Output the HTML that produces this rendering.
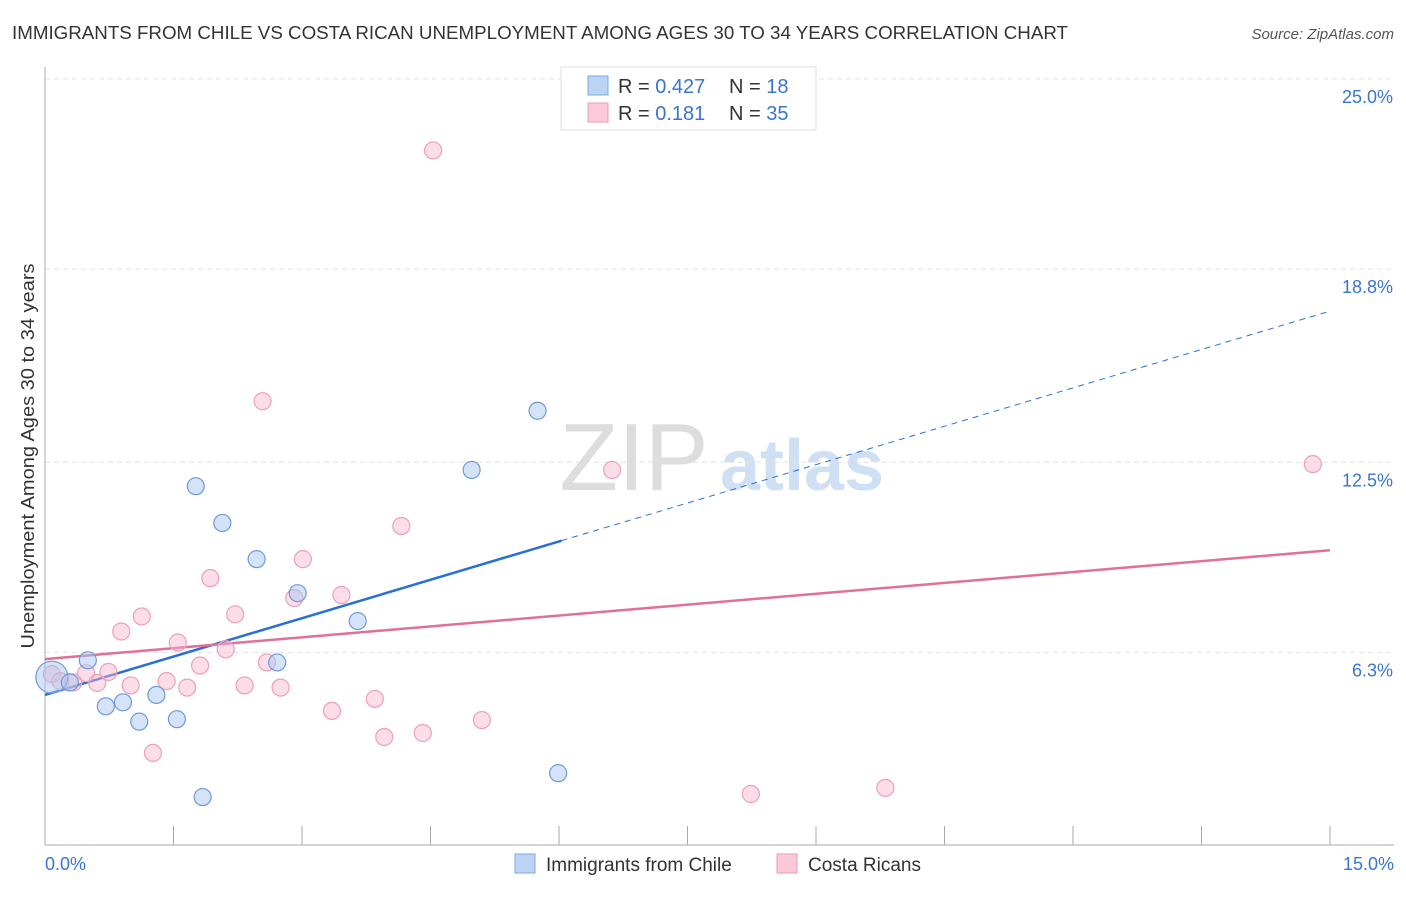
<!DOCTYPE html>
<html><head><meta charset="utf-8">
<style>
body{margin:0;background:#fff;font-family:"Liberation Sans",sans-serif;}
svg text{font-family:"Liberation Sans",sans-serif;}
</style></head>
<body>
<svg id="chart" width="1406" height="892" xmlns="http://www.w3.org/2000/svg">
<text x="12" y="39" font-size="18" fill="#333" textLength="1056" lengthAdjust="spacingAndGlyphs">IMMIGRANTS FROM CHILE VS COSTA RICAN UNEMPLOYMENT AMONG AGES 30 TO 34 YEARS CORRELATION CHART</text>
<text x="1394" y="39" font-size="15" fill="#555" text-anchor="end" font-style="italic">Source: ZipAtlas.com</text>
<g>
<text x="634" y="490" font-size="96" fill="#ddd" font-family="Liberation Serif, serif" text-anchor="middle">ZIP</text>
<text x="802" y="490" font-size="72" fill="#cfe0f4" text-anchor="middle" font-weight="bold">atlas</text>
</g>
<g id="grid"></g>
<g id="axes"></g>
<g id="lines"></g>
<g id="points"></g>
<text transform="translate(34,456) rotate(-90)" font-size="18" fill="#333" text-anchor="middle" textLength="385" lengthAdjust="spacingAndGlyphs">Unemployment Among Ages 30 to 34 years</text>
<g>
<rect x="561" y="67" width="255" height="63" fill="#fff" stroke="#ddd"/>
<rect x="588" y="76" width="20" height="19" fill="#bcd4f4" stroke="#7ea8e0"/>
<rect x="588" y="103" width="20" height="19" fill="#fbc9d8" stroke="#ee9ab4"/>
<text x="618" y="93" font-size="20" fill="#333">R = <tspan fill="#3a75d0">0.427</tspan></text>
<text x="729" y="93" font-size="20" fill="#333">N = <tspan fill="#3a75d0"> 18</tspan></text>
<text x="618" y="120" font-size="20" fill="#333">R = <tspan fill="#3a75d0"> 0.181</tspan></text>
<text x="729" y="120" font-size="20" fill="#333">N = <tspan fill="#3a75d0">35</tspan></text>
</g>
<g>
<rect x="515" y="854" width="20" height="19" fill="#bcd4f4" stroke="#7ea8e0"/>
<text x="546" y="871" font-size="19" fill="#333">Immigrants from Chile</text>
<rect x="777" y="854" width="20" height="19" fill="#fbc9d8" stroke="#ee9ab4"/>
<text x="808" y="871" font-size="19" fill="#333">Costa Ricans</text>
</g>
</svg>
<script>
const blueX=[0.08,0.29,0.50,0.71,0.91,1.10,1.30,1.54,1.76,1.84,2.07,2.47,2.71,2.95,3.65,4.98,5.75,5.99];
const blueY=[5.49,5.32,6.04,4.54,4.67,4.04,4.91,4.12,11.72,1.58,10.52,9.34,5.97,8.23,7.32,12.25,14.18,2.36];
const pinkX=[0.08,0.18,0.33,0.48,0.61,0.74,0.89,1.00,1.13,1.26,1.42,1.55,1.66,1.81,1.93,2.11,2.22,2.33,2.54,2.59,2.75,2.91,3.01,3.35,3.46,3.85,3.96,4.16,4.41,4.53,5.10,6.62,8.24,9.81,14.80];
const pinkY=[5.59,5.36,5.32,5.62,5.30,5.66,6.98,5.22,7.47,3.02,5.36,6.62,5.15,5.87,8.72,6.40,7.54,5.22,14.49,5.97,5.15,8.07,9.34,4.39,8.17,4.78,3.54,10.42,3.67,22.67,4.09,12.25,1.68,1.88,12.44];
const blueTrend=[4.91,17.43];
const pinkTrend=[6.08,9.63];
const yTicks=[25.0,18.8,12.5,6.3];
const yTickLabels=["25.0%","18.8%","12.5%","6.3%"];
const xTickLabels=["0.0%","15.0%"];
const xMax=15, yMax=25;
const NS="http://www.w3.org/2000/svg";
function sx(v){return 45+v*(1330-45)/xMax;}
function sy(v){return 845.5-v*(845.5-79)/yMax;}
function mk(tag,attrs,parent){const e=document.createElementNS(NS,tag);for(const k in attrs)e.setAttribute(k,attrs[k]);document.getElementById(parent).appendChild(e);return e;}
yTicks.forEach((t,i)=>{
 const g=mk('line',{x1:45,x2:1394,y1:sy(t),y2:sy(t),stroke:'#e2e2e2','stroke-dasharray':'5,4'},'grid');
 
 
 const l=mk('text',{x:1393,y:sy(t)+24,'font-size':18,fill:'#3a75d0','text-anchor':'end'},'grid');
 l.textContent=yTickLabels[i];
 
 
});
const ax=mk('line',{x1:45,x2:45,y1:67,y2:845,stroke:'#aaa'},'axes');


const bx=mk('line',{x1:45,x2:1394,y1:845,y2:845,stroke:'#aaa'},'axes');


for(let i=0;i<=10;i++){
 const t=mk('line',{x1:sx(i*1.5),x2:sx(i*1.5),y1:826,y2:845,stroke:'#aaa'},'axes');
 
 
}
[[0,45,'start'],[15,1394,'end']].forEach((d,i)=>{
 const l=mk('text',{x:d[1],y:870,'font-size':18,fill:'#3a75d0','text-anchor':d[2]},'axes');
 l.textContent=xTickLabels[i];
 
 
});
function yAt(tr,x){return tr[0]+(tr[1]-tr[0])*x/xMax;}
const bxEnd=6.03;
const b1=mk('line',{x1:sx(0),y1:sy(yAt(blueTrend,0)),x2:sx(bxEnd),y2:sy(yAt(blueTrend,bxEnd)),stroke:'#2a6fd6','stroke-width':2.5},'lines');


const b2=mk('line',{x1:sx(bxEnd),y1:sy(yAt(blueTrend,bxEnd)),x2:sx(15),y2:sy(yAt(blueTrend,15)),stroke:'#2a6fd6','stroke-width':1,'stroke-dasharray':'6,5'},'lines');


const p1=mk('line',{x1:sx(0),y1:sy(yAt(pinkTrend,0)),x2:sx(15),y2:sy(yAt(pinkTrend,15)),stroke:'#e0709a','stroke-width':2.5},'lines');


pinkX.forEach((x,i)=>{
 const c=mk('circle',{cx:sx(x),cy:sy(pinkY[i]),r:8.5,fill:'rgba(248,180,204,0.45)',stroke:'#eba0bb','stroke-width':1.2},'points');
 
 
});
blueX.forEach((x,i)=>{
 const c=mk('circle',{cx:sx(x),cy:sy(blueY[i]),r:i===0?16:8.5,fill:'rgba(170,200,240,0.5)',stroke:'#6f9ad8','stroke-width':1.2},'points');
 
 
});
</script>
</body></html>
